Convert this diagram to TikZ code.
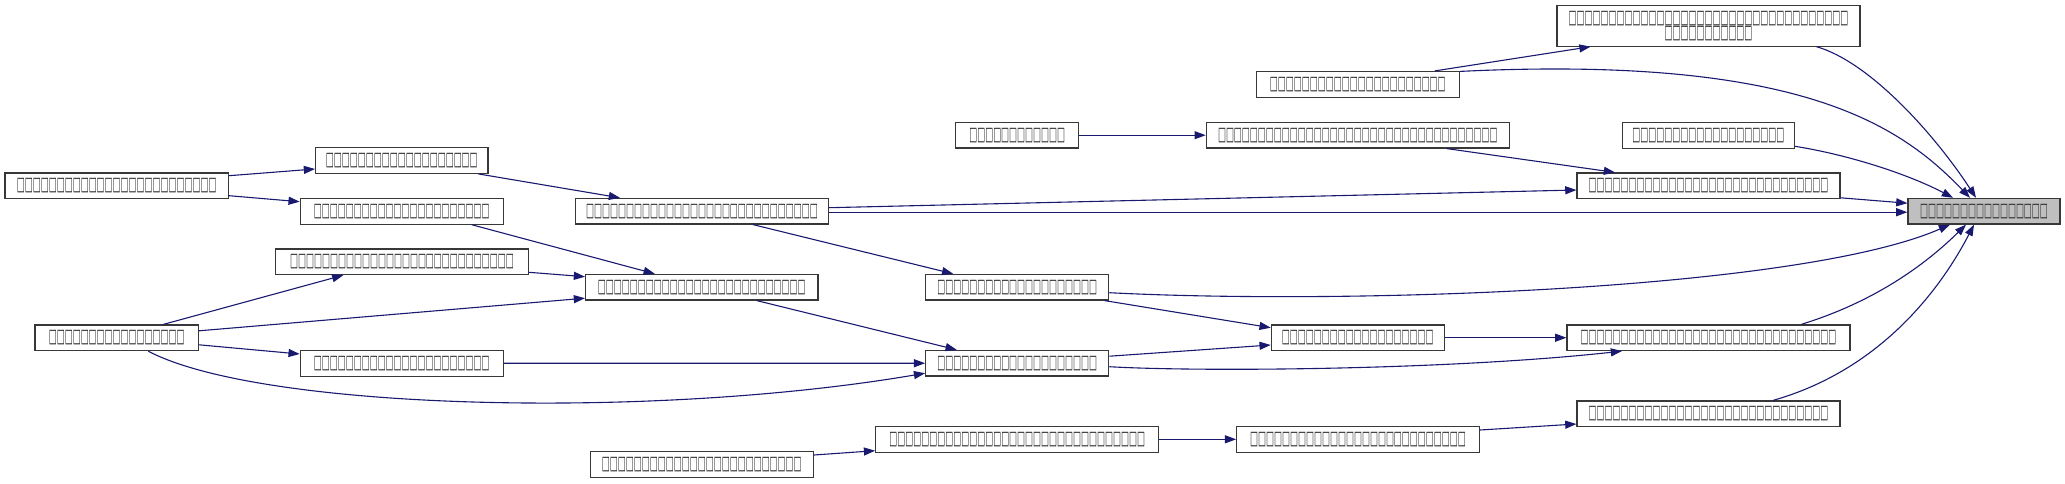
\documentclass[tikz,border=0pt]{standalone}
\usepackage{fontspec}
\newfontfamily\tofu[FakeStretch=0.445]{DejaVu Sans}
\usetikzlibrary{arrows.meta,calc}
\definecolor{edgec}{HTML}{191970}
\definecolor{nodeg}{HTML}{BFBFBF}
\begin{document}
\begin{tikzpicture}[x=0.5pt,y=-0.5pt,
  fn/.style={draw=black!78, line width=0.6pt, rectangle, minimum height=12.8pt, inner sep=0pt, font=\tofu\fontsize{9.5}{7.6}\selectfont, text=black!85},
  cg/.style={draw=edgec, line width=0.55pt, -{Triangle[length=5.6pt,width=4pt]}}]
\useasboundingbox (0,0) rectangle (2065,483);
% nodes
\node[fn, fill=nodeg, minimum width=76pt] (main) at (1984,211.2) {□□□□□□□□□□□□□□□□};
\node[fn, minimum width=151.5pt, minimum height=20.2pt, align=center] (n2) at (1708.5,25.9) {□□□□□□□□□□□□□□□□□□□□□□□□□□□□□□□□□□□\\□□□□□□□□□□□};
\node[fn, minimum width=101.5pt] (n3) at (1357.8,84.3) {□□□□□□□□□□□□□□□□□□□□□□};
\node[fn, minimum width=86pt] (n4) at (1708.3,135.3) {□□□□□□□□□□□□□□□□□□□};
\node[fn, minimum width=61.5pt] (n5) at (1017.2,135.2) {□□□□□□□□□□□□};
\node[fn, minimum width=151.5pt] (n6) at (1357.8,135.2) {□□□□□□□□□□□□□□□□□□□□□□□□□□□□□□□□□□□};
\node[fn, minimum width=131.5pt] (n7) at (1708.5,185.8) {□□□□□□□□□□□□□□□□□□□□□□□□□□□□□□};
\node[fn, minimum width=86.2pt] (n8) at (401.8,160.5) {□□□□□□□□□□□□□□□□□□□};
\node[fn, minimum width=111.7pt] (n9) at (116.7,185.7) {□□□□□□□□□□□□□□□□□□□□□□□□□};
\node[fn, minimum width=126.3pt] (n10) at (702,211.2) {□□□□□□□□□□□□□□□□□□□□□□□□□□□□□};
\node[fn, minimum width=101.4pt] (n11) at (401.7,211.3) {□□□□□□□□□□□□□□□□□□□□□□};
\node[fn, minimum width=126.3pt] (n12) at (402,261.8) {□□□□□□□□□□□□□□□□□□□□□□□□□□□□};
\node[fn, minimum width=116.2pt] (n13) at (701.8,287.2) {□□□□□□□□□□□□□□□□□□□□□□□□□□};
\node[fn, minimum width=91.5pt] (n14) at (1017.2,287.2) {□□□□□□□□□□□□□□□□□□□□};
\node[fn, minimum width=81.7pt] (n15) at (116.7,337.8) {□□□□□□□□□□□□□□□□□};
\node[fn, minimum width=86.4pt] (n16) at (1357.7,337.7) {□□□□□□□□□□□□□□□□□□□};
\node[fn, minimum width=141.5pt] (n17) at (1708.5,337.7) {□□□□□□□□□□□□□□□□□□□□□□□□□□□□□□□□};
\node[fn, minimum width=101.4pt] (n18) at (401.7,363.3) {□□□□□□□□□□□□□□□□□□□□□□};
\node[fn, minimum width=91.5pt] (n19) at (1017.2,363.2) {□□□□□□□□□□□□□□□□□□□□};
\node[fn, minimum width=141.5pt] (n20) at (1017.2,439.3) {□□□□□□□□□□□□□□□□□□□□□□□□□□□□□□□□};
\node[fn, minimum width=121.3pt] (n21) at (1358,439.3) {□□□□□□□□□□□□□□□□□□□□□□□□□□□};
\node[fn, minimum width=131.5pt] (n22) at (1708.5,413.8) {□□□□□□□□□□□□□□□□□□□□□□□□□□□□□□};
\node[fn, minimum width=111.5pt] (n23) at (701.8,464.5) {□□□□□□□□□□□□□□□□□□□□□□□□□};
% edges into main
\draw[cg] ($(n2.south)+(108,0)$) .. controls (1870,62) and (1935,135) .. ($(main.north)+(-8,0)$);
\draw[cg] ($(n3.north east)+(0,0.5)$) .. controls (1800,55) and (1900,125) .. ($(main.north)+(-14,0)$);
\draw[cg] ($(n4.east)+(0,11)$) .. controls (1850,155) and (1910,175) .. ($(main.north)+(-31,0)$);
\draw[cg] ($(n7.east)+(0,12)$) -- ($(main.west)+(0,-8)$);
\draw[cg] ($(n10.east)+(0,1)$) -- ($(main.west)+(0,1)$);
\draw[cg] ($(n14.east)+(0,5.5)$) .. controls (1350,305) and (1800,290) .. ($(main.south)+(-34,0)$);
\draw[cg] ($(n17.north)+(93,0)$) .. controls (1880,300) and (1930,260) .. ($(main.south)+(-18,0)$);
\draw[cg] ($(n22.north)+(64.5,0)$) .. controls (1880,370) and (1940,290) .. ($(main.south)+(-10,0)$);
% other edges
\draw[cg] ($(n3.north)+(77,0)$) -- ($(n2.south)+(-118,0)$);
\draw[cg] ($(n10.east)+(0,-3.5)$) -- ($(n7.west)+(0,4.2)$);
\draw[cg] (n5) -- (n6);
\draw[cg] ($(n6.south)+(89,0)$) -- ($(n7.north)+(-93.5,0)$);
\draw[cg] ($(n8.south)+(76.5,0)$) -- ($(n10.north)+(-82,0)$);
\draw[cg] ($(n9.east)+(0,-10)$) -- ($(n8.west)+(0,8.5)$);
\draw[cg] ($(n9.east)+(0,10)$) -- ($(n11.west)+(0,-9.6)$);
\draw[cg] ($(n11.south)+(70,0)$) -- ($(n13.north)+(-47,0)$);
\draw[cg] ($(n10.south)+(51,0)$) -- ($(n14.north)+(-64,0)$);
\draw[cg] ($(n12.east)+(0,10.5)$) -- ($(n13.west)+(0,-10.5)$);
\draw[cg] ($(n15.east)+(0,-7)$) -- ($(n13.west)+(0,11)$);
\draw[cg] ($(n15.north)+(46.6,0)$) -- ($(n12.south)+(-58.7,0)$);
\draw[cg] ($(n15.east)+(0,7)$) -- ($(n18.west)+(0,-9.3)$);
\draw[cg] ($(n15.south)+(31.6,0)$) .. controls (260,410) and (650,420) .. ($(n19.west)+(0,10)$);
\draw[cg] (n18) -- (n19);
\draw[cg] ($(n13.south)+(55,0)$) -- ($(n19.north)+(-60.5,0)$);
\draw[cg] ($(n14.south east)+(-4.7,0)$) -- ($(n16.west)+(0,-10)$);
\draw[cg] ($(n19.east)+(0,-7)$) -- ($(n16.west)+(0,7.3)$);
\draw[cg] ($(n19.east)+(0,3.5)$) .. controls (1200,372) and (1450,370) .. ($(n17.south)+(-86.5,0)$);
\draw[cg] (n16) -- (n17);
\draw[cg] (n20) -- (n21);
\draw[cg] ($(n21.east)+(0,-9.3)$) -- ($(n22.west)+(0,10.2)$);
\draw[cg] ($(n23.east)+(0,-9.5)$) -- ($(n20.west)+(0,11.4)$);
\end{tikzpicture}
\end{document}
